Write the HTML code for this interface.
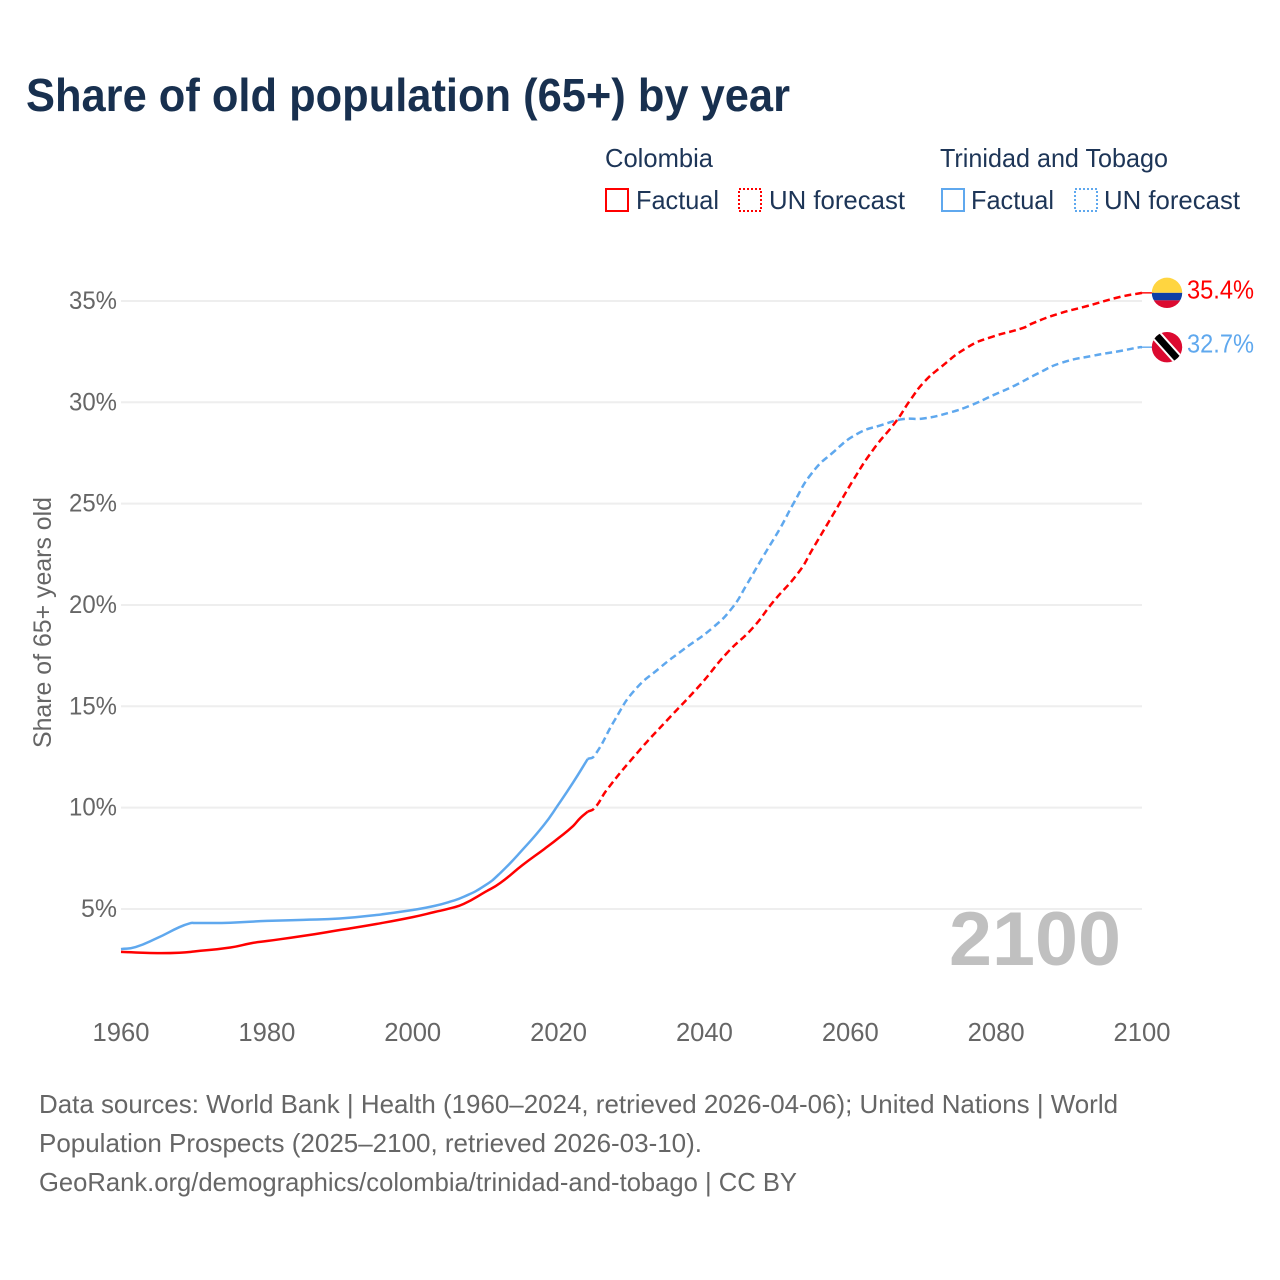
<!DOCTYPE html>
<html lang="en">
<head>
<meta charset="utf-8">
<title>Share of old population (65+) by year</title>
<style>
html,body{margin:0;padding:0;background:#fff;}
svg{display:block;font-family:"Liberation Sans",sans-serif;}
</style>
</head>
<body>
<svg id="chart" xmlns="http://www.w3.org/2000/svg" width="1280" height="1280" viewBox="0 0 1280 1280">
  <rect x="0" y="0" width="1280" height="1280" fill="#fff"/>
  <text x="26" y="111" font-size="46" font-weight="bold" fill="#18304f" textLength="764" lengthAdjust="spacingAndGlyphs">Share of old population (65+) by year</text>

  <g font-size="26" fill="#1d3557">
    <text x="605" y="167" textLength="108" lengthAdjust="spacingAndGlyphs">Colombia</text>
    <text x="940" y="167" textLength="228" lengthAdjust="spacingAndGlyphs">Trinidad and Tobago</text>
    <rect x="606" y="189" width="22" height="22" fill="none" stroke="#ff0000" stroke-width="2"/>
    <text x="636" y="209" textLength="83" lengthAdjust="spacingAndGlyphs">Factual</text>
    <rect x="739" y="189" width="22" height="22" fill="none" stroke="#ff0000" stroke-width="2" stroke-dasharray="2,2"/>
    <text x="769" y="209" textLength="136" lengthAdjust="spacingAndGlyphs">UN forecast</text>
    <rect x="942" y="189" width="22" height="22" fill="none" stroke="#5fa8ee" stroke-width="2"/>
    <text x="971" y="209" textLength="83" lengthAdjust="spacingAndGlyphs">Factual</text>
    <rect x="1075" y="189" width="22" height="22" fill="none" stroke="#5fa8ee" stroke-width="2" stroke-dasharray="2,2"/>
    <text x="1104" y="209" textLength="136" lengthAdjust="spacingAndGlyphs">UN forecast</text>
  </g>

  <text transform="translate(51,622.5) rotate(-90)" text-anchor="middle" font-size="25" fill="#666" textLength="251" lengthAdjust="spacingAndGlyphs">Share of 65+ years old</text>

  <g id="grid"></g>
  <g id="yticks"></g>
  <g id="xticks"></g>

  <text x="949" y="965" font-size="76" font-weight="bold" fill="#c0c0c0" textLength="172" lengthAdjust="spacingAndGlyphs">2100</text>

  <g id="series"></g>
  <g id="ends"></g>

  <g font-size="26" fill="#666">
    <text x="39" y="1113" textLength="1079" lengthAdjust="spacingAndGlyphs">Data sources: World Bank | Health (1960–2024, retrieved 2026-04-06); United Nations | World</text>
    <text x="39" y="1152" textLength="663" lengthAdjust="spacingAndGlyphs">Population Prospects (2025–2100, retrieved 2026-03-10).</text>
    <text x="39" y="1191" textLength="758" lengthAdjust="spacingAndGlyphs">GeoRank.org/demographics/colombia/trinidad-and-tobago | CC BY</text>
  </g>
</svg>
<script>
var xTickYears = [1960, 1980, 2000, 2020, 2040, 2060, 2080, 2100];
var yTickValues = [5, 10, 15, 20, 25, 30, 35];

var colombiaFactualYears = [1960, 1962, 1965, 1968, 1970, 1975, 1978, 1980, 1985, 1990, 1995, 2000, 2003, 2005, 2007, 2010, 2012, 2015, 2018, 2020, 2022, 2023, 2024];
var colombiaFactualValues = [2.88, 2.85, 2.82, 2.84, 2.9, 3.1, 3.32, 3.42, 3.67, 3.96, 4.26, 4.6, 4.85, 5.02, 5.25, 5.85, 6.28, 7.15, 7.95, 8.5, 9.1, 9.5, 9.8];
var colombiaForecastYears = [2024, 2025, 2026.6, 2030.9, 2034.9, 2039.4, 2043.1, 2046.7, 2049.4, 2053.1, 2054.9, 2057.7, 2060.4, 2063.1, 2066.4, 2068.2, 2070, 2072.3, 2076, 2079.2, 2083.7, 2085, 2088.4, 2092.5, 2097, 2100];
var colombiaForecastValues = [9.8, 10.0, 10.87, 12.75, 14.32, 16.05, 17.63, 18.9, 20.14, 21.7, 22.8, 24.5, 26.16, 27.64, 29.12, 30.1, 30.95, 31.7, 32.7, 33.2, 33.67, 33.9, 34.35, 34.75, 35.2, 35.4];

var trinidadFactualYears = [1960, 1962, 1965, 1968, 1969.5, 1970, 1975, 1980, 1985, 1990, 1995, 2000, 2003, 2005, 2007, 2010, 2012, 2015, 2018, 2020, 2022, 2024];
var trinidadFactualValues = [3.02, 3.12, 3.57, 4.1, 4.3, 4.31, 4.32, 4.41, 4.46, 4.53, 4.7, 4.95, 5.15, 5.35, 5.6, 6.18, 6.77, 7.9, 9.15, 10.17, 11.25, 12.4];
var trinidadForecastYears = [2024, 2025, 2027.7, 2030.2, 2033.9, 2037, 2041.2, 2043.9, 2045.8, 2048, 2050.4, 2052.2, 2054.5, 2057.7, 2060.9, 2064.5, 2067.2, 2070, 2073.7, 2076.4, 2079.6, 2082.4, 2085.6, 2088.8, 2093.3, 2097, 2099.7, 2100];
var trinidadForecastValues = [12.4, 12.6, 14.32, 15.7, 16.9, 17.77, 18.9, 19.9, 21, 22.36, 23.8, 25, 26.4, 27.55, 28.43, 28.9, 29.17, 29.2, 29.5, 29.83, 30.35, 30.8, 31.4, 31.93, 32.3, 32.53, 32.72, 32.72];

var SVGNS = 'http://www.w3.org/2000/svg';
var RED = '#ff0000';
var BLUE = '#5fa8ee';

function xScale(year) { return 121 + (year - 1960) * (1142 - 121) / 140; }
function yScale(value) { return 1010.3 - value * (608 / 30); }

function make(tag, parent, attrs) {
  var el = document.createElementNS(SVGNS, tag);
  Object.keys(attrs).forEach(function (k) { el.setAttribute(k, attrs[k]); });
  parent.appendChild(el);
  return el;
}

var gridGroup = document.getElementById('grid');
var yTickGroup = document.getElementById('yticks');
var xTickGroup = document.getElementById('xticks');
var seriesGroup = document.getElementById('series');
var endGroup = document.getElementById('ends');

yTickValues.forEach(function (v) {
  var line = make('line', gridGroup, { x1: xScale(1960), x2: xScale(2100), y1: yScale(v), y2: yScale(v), stroke: '#eeeeee', 'stroke-width': 2 });
  
  
  var label = v + '%';
  var t = make('text', yTickGroup, { x: 117, y: yScale(v) + 8, 'text-anchor': 'end', 'font-size': 25, fill: '#666', textLength: label.length === 3 ? 48 : 36, lengthAdjust: 'spacingAndGlyphs' });
  t.textContent = label;
  
  
});

xTickYears.forEach(function (yr) {
  var t = make('text', xTickGroup, { x: xScale(yr), y: 1041, 'text-anchor': 'middle', 'font-size': 25.6, fill: '#666' });
  t.textContent = String(yr);
  
  
});

/* Smooth path through the read points (Catmull-Rom with clamped control points). */
function pathOf(years, values) {
  var px = years.map(xScale);
  var py = values.map(yScale);
  var d = 'M' + px[0].toFixed(1) + ' ' + py[0].toFixed(1);
  for (var i = 0; i < px.length - 1; i++) {
    var a = Math.max(i - 1, 0);
    var b = Math.min(i + 2, px.length - 1);
    var w1 = (px[i + 1] - px[i]) / Math.max(px[i + 1] - px[a], 0.01) * 0.5;
    var w2 = (px[i + 1] - px[i]) / Math.max(px[b] - px[i], 0.01) * 0.5;
    var c1x = px[i] + (px[i + 1] - px[a]) * w1;
    var c1y = py[i] + (py[i + 1] - py[a]) * w1;
    var c2x = px[i + 1] - (px[b] - px[i]) * w2;
    var c2y = py[i + 1] - (py[b] - py[i]) * w2;
    d += 'C' + c1x.toFixed(1) + ' ' + c1y.toFixed(1) + ' ' + c2x.toFixed(1) + ' ' + c2y.toFixed(1) + ' ' + px[i + 1].toFixed(1) + ' ' + py[i + 1].toFixed(1);
  }
  return d;
}

function drawLine(years, values, color, dashed, name) {
  var attrs = { d: pathOf(years, values), fill: 'none', stroke: color, 'stroke-width': 2.5, 'stroke-linejoin': 'round' };
  if (dashed) { attrs['stroke-dasharray'] = '7,4'; }
  var el = make('path', seriesGroup, attrs);
  
  
}

drawLine(trinidadFactualYears, trinidadFactualValues, BLUE, false, 'trinidad-factual-line');
drawLine(trinidadForecastYears, trinidadForecastValues, BLUE, true, 'trinidad-forecast-line');
drawLine(colombiaFactualYears, colombiaFactualValues, RED, false, 'colombia-factual-line');
drawLine(colombiaForecastYears, colombiaForecastValues, RED, true, 'colombia-forecast-line');

function last(a) { return a[a.length - 1]; }

function endLabel(values, color, name, nudge) {
  var v = last(values);
  var yy = yScale(v);
  var conn = make('line', endGroup, { x1: xScale(2100), x2: 1154, y1: yy, y2: yy, stroke: color, 'stroke-width': 1.4 });
  
  
  var t = make('text', endGroup, { x: 1187, y: yy + nudge, 'font-size': 26, fill: color, textLength: 67, lengthAdjust: 'spacingAndGlyphs' });
  t.textContent = v.toFixed(1) + '%';
  
  
  return yy;
}

var colY = endLabel(colombiaForecastValues, RED, 'colombia', 5.5);
var triY = endLabel(trinidadForecastValues, BLUE, 'trinidad', 5.5);

var defs = make('defs', endGroup, {});
var clipA = make('clipPath', defs, { id: 'clip-col' });
make('circle', clipA, { cx: 1167, cy: colY, r: 15.2 });
var clipB = make('clipPath', defs, { id: 'clip-tri' });
make('circle', clipB, { cx: 1167, cy: triY, r: 15.2 });

var colFlag = make('g', endGroup, { 'clip-path': 'url(#clip-col)' });


make('rect', colFlag, { x: 1150, y: colY - 16, width: 34, height: 16, fill: '#ffd540' });
make('rect', colFlag, { x: 1150, y: colY, width: 34, height: 7.5, fill: '#0f3fa6' });
make('rect', colFlag, { x: 1150, y: colY + 7.5, width: 34, height: 9, fill: '#dc0a30' });

var triFlag = make('g', endGroup, { 'clip-path': 'url(#clip-tri)' });


make('rect', triFlag, { x: 1150, y: triY - 16, width: 34, height: 32, fill: '#dc0a30' });
make('line', triFlag, { x1: 1150, y1: triY - 19, x2: 1184, y2: triY + 19, stroke: '#fff', 'stroke-width': 11 });
make('line', triFlag, { x1: 1150, y1: triY - 19, x2: 1184, y2: triY + 19, stroke: '#000', 'stroke-width': 7 });
</script>
</body>
</html>
